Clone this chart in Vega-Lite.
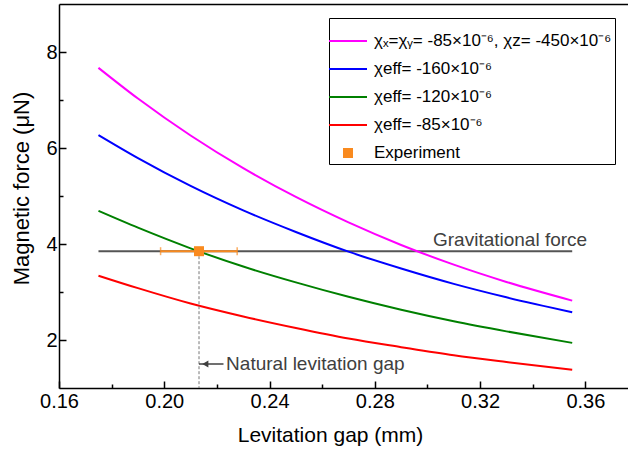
{
  "$schema": "https://vega.github.io/schema/vega-lite/v6.json",
  "width": 569,
  "height": 384,
  "autosize": {"type": "none"},
  "padding": {"left": 59, "top": 4, "right": 0, "bottom": 65},
  "config": {
    "view": {"stroke": null},
    "font": "Liberation Sans",
    "axis": {"grid": false, "domainColor": "black", "domainWidth": 1.5, "tickColor": "black", "tickWidth": 1.5, "labelColor": "black", "titleColor": "black", "titleFontWeight": "normal"}
  },
  "datasets": {
    "curves": [
      {"series": "χₓ=χᵧ= -85×10⁻⁶, χz= -450×10⁻⁶", "gap": 0.175, "force": 7.67},
      {"series": "χₓ=χᵧ= -85×10⁻⁶, χz= -450×10⁻⁶", "gap": 0.19, "force": 7.03},
      {"series": "χₓ=χᵧ= -85×10⁻⁶, χz= -450×10⁻⁶", "gap": 0.21, "force": 6.26},
      {"series": "χₓ=χᵧ= -85×10⁻⁶, χz= -450×10⁻⁶", "gap": 0.23, "force": 5.58},
      {"series": "χₓ=χᵧ= -85×10⁻⁶, χz= -450×10⁻⁶", "gap": 0.25, "force": 4.98},
      {"series": "χₓ=χᵧ= -85×10⁻⁶, χz= -450×10⁻⁶", "gap": 0.27, "force": 4.45},
      {"series": "χₓ=χᵧ= -85×10⁻⁶, χz= -450×10⁻⁶", "gap": 0.29, "force": 3.98},
      {"series": "χₓ=χᵧ= -85×10⁻⁶, χz= -450×10⁻⁶", "gap": 0.31, "force": 3.57},
      {"series": "χₓ=χᵧ= -85×10⁻⁶, χz= -450×10⁻⁶", "gap": 0.33, "force": 3.21},
      {"series": "χₓ=χᵧ= -85×10⁻⁶, χz= -450×10⁻⁶", "gap": 0.355, "force": 2.82},
      {"series": "χeff= -160×10⁻⁶", "gap": 0.175, "force": 6.27},
      {"series": "χeff= -160×10⁻⁶", "gap": 0.19, "force": 5.79},
      {"series": "χeff= -160×10⁻⁶", "gap": 0.21, "force": 5.21},
      {"series": "χeff= -160×10⁻⁶", "gap": 0.23, "force": 4.70},
      {"series": "χeff= -160×10⁻⁶", "gap": 0.25, "force": 4.25},
      {"series": "χeff= -160×10⁻⁶", "gap": 0.27, "force": 3.84},
      {"series": "χeff= -160×10⁻⁶", "gap": 0.29, "force": 3.49},
      {"series": "χeff= -160×10⁻⁶", "gap": 0.31, "force": 3.17},
      {"series": "χeff= -160×10⁻⁶", "gap": 0.33, "force": 2.89},
      {"series": "χeff= -160×10⁻⁶", "gap": 0.355, "force": 2.58},
      {"series": "χeff= -120×10⁻⁶", "gap": 0.175, "force": 4.69},
      {"series": "χeff= -120×10⁻⁶", "gap": 0.19, "force": 4.34},
      {"series": "χeff= -120×10⁻⁶", "gap": 0.21, "force": 3.91},
      {"series": "χeff= -120×10⁻⁶", "gap": 0.23, "force": 3.53},
      {"series": "χeff= -120×10⁻⁶", "gap": 0.25, "force": 3.20},
      {"series": "χeff= -120×10⁻⁶", "gap": 0.27, "force": 2.90},
      {"series": "χeff= -120×10⁻⁶", "gap": 0.29, "force": 2.63},
      {"series": "χeff= -120×10⁻⁶", "gap": 0.31, "force": 2.39},
      {"series": "χeff= -120×10⁻⁶", "gap": 0.33, "force": 2.18},
      {"series": "χeff= -120×10⁻⁶", "gap": 0.355, "force": 1.94},
      {"series": "χeff= -85×10⁻⁶", "gap": 0.175, "force": 3.34},
      {"series": "χeff= -85×10⁻⁶", "gap": 0.19, "force": 3.08},
      {"series": "χeff= -85×10⁻⁶", "gap": 0.21, "force": 2.76},
      {"series": "χeff= -85×10⁻⁶", "gap": 0.23, "force": 2.49},
      {"series": "χeff= -85×10⁻⁶", "gap": 0.25, "force": 2.25},
      {"series": "χeff= -85×10⁻⁶", "gap": 0.27, "force": 2.03},
      {"series": "χeff= -85×10⁻⁶", "gap": 0.29, "force": 1.85},
      {"series": "χeff= -85×10⁻⁶", "gap": 0.31, "force": 1.68},
      {"series": "χeff= -85×10⁻⁶", "gap": 0.33, "force": 1.54},
      {"series": "χeff= -85×10⁻⁶", "gap": 0.355, "force": 1.38}
    ],
    "gravity": [
      {"gap": 0.175, "force": 3.85},
      {"gap": 0.355, "force": 3.85}
    ],
    "gravityLabel": [
      {"text": "Gravitational force", "gap": 0.3314, "force": 3.85}
    ],
    "experiment": [
      {"series": "Experiment", "gap": 0.2132, "force": 3.85, "lo": 0.1986, "hi": 0.2277, "floor": 1}
    ],
    "naturalGap": [
      {"text": "Natural levitation gap", "from": 0.2132, "to": 0.2225, "head": 0.2156, "textAt": 0.2235, "force": 1.5}
    ]
  },
  "resolve": {"axis": {"x": "independent"}},
  "layer": [
    {
      "data": {"name": "gravity"},
      "mark": {"type": "line", "color": "#555555", "strokeWidth": 2},
      "encoding": {
        "x": {
          "field": "gap", "type": "quantitative",
          "scale": {"domain": [0.16, 0.3762], "nice": false, "zero": false},
          "axis": {"orient": "top", "labels": false, "ticks": false, "title": null}
        },
        "y": {
          "field": "force", "type": "quantitative",
          "scale": {"domain": [1, 9], "nice": false, "zero": false},
          "axis": {
            "values": [2, 3, 4, 5, 6, 7, 8],
            "labelExpr": "datum.value % 2 == 0 ? datum.label : ''",
            "tickSize": {"condition": {"test": "datum.value % 2 == 0", "value": -7}, "value": -4},
            "labelFontSize": 20,
            "labelPadding": 9,
            "title": "Magnetic force (μN)",
            "titleFontSize": 22,
            "titleBaseline": "alphabetic",
            "titleX": -31,
            "titleY": 184
          }
        }
      }
    },
    {
      "layer": [
        {
          "data": {"name": "curves"},
          "mark": {"type": "line", "strokeWidth": 2, "interpolate": "monotone"},
          "encoding": {
            "x": {
              "field": "gap", "type": "quantitative",
              "axis": {
                "orient": "bottom",
                "values": [0.16, 0.18, 0.2, 0.22, 0.24, 0.26, 0.28, 0.3, 0.32, 0.34, 0.36],
                "labelExpr": "round(datum.value * 100) % 4 == 0 ? format(datum.value, '.2f') : ''",
                "tickSize": {"condition": {"test": "round(datum.value * 100) % 4 == 0", "value": -7}, "value": -4},
                "labelFontSize": 20,
                "labelPadding": 10,
                "labelFlush": false,
                "title": "Levitation gap (mm)",
                "titleFontSize": 21,
                "titleX": 271,
                "titleY": 36
              }
            },
            "y": {"field": "force", "type": "quantitative"},
            "color": {
              "field": "series", "type": "nominal",
              "scale": {
                "domain": ["χₓ=χᵧ= -85×10⁻⁶, χz= -450×10⁻⁶", "χeff= -160×10⁻⁶", "χeff= -120×10⁻⁶", "χeff= -85×10⁻⁶", "Experiment"],
                "range": ["#FF00FF", "#0000FF", "#008000", "#FF0000", "#F98A1F"]
              },
              "legend": {
                "orient": "none",
                "legendX": 270,
                "legendY": 14,
                "title": null,
                "symbolType": "stroke",
                "symbolSize": 400,
                "symbolStrokeWidth": 2,
                "labelFontSize": 17,
                "labelColor": "black",
                "labelOffset": 2,
                "labelLimit": 400,
                "padding": 3,
                "rowPadding": -1.5,
                "strokeColor": "black",
                "fillColor": "white",
                "encode": {
                  "symbols": {
                    "update": {
                      "x": {"value": 16},
                      "shape": {"signal": "datum.value === 'Experiment' ? 'square' : 'stroke'"},
                      "size": {"signal": "datum.value === 'Experiment' ? 64 : 1444"},
                      "fill": {"signal": "datum.value === 'Experiment' ? scale('color', datum.value) : 'transparent'"},
                      "stroke": {"signal": "datum.value === 'Experiment' ? 'transparent' : scale('color', datum.value)"},
                      "strokeWidth": {"value": 2},
                      "opacity": {"value": 1}
                    }
                  }
                }
              }
            }
          }
        },
        {
          "data": {"name": "experiment"},
          "mark": {"type": "rule", "color": "#777777", "strokeWidth": 1, "strokeDash": [3, 2]},
          "encoding": {
            "x": {"field": "gap", "type": "quantitative"},
            "y": {"field": "force", "type": "quantitative"},
            "y2": {"field": "floor"}
          }
        },
        {
          "data": {"name": "experiment"},
          "mark": {"type": "rule", "color": "#F98A1F", "strokeWidth": 2},
          "encoding": {
            "x": {"field": "lo", "type": "quantitative"},
            "x2": {"field": "hi"},
            "y": {"field": "force", "type": "quantitative"}
          }
        },
        {
          "data": {"name": "experiment"},
          "mark": {"type": "tick", "orient": "vertical", "color": "#F98A1F", "size": 8, "thickness": 1.5},
          "encoding": {
            "x": {"field": "lo", "type": "quantitative"},
            "y": {"field": "force", "type": "quantitative"}
          }
        },
        {
          "data": {"name": "experiment"},
          "mark": {"type": "tick", "orient": "vertical", "color": "#F98A1F", "size": 8, "thickness": 1.5},
          "encoding": {
            "x": {"field": "hi", "type": "quantitative"},
            "y": {"field": "force", "type": "quantitative"}
          }
        },
        {
          "data": {"name": "experiment"},
          "mark": {"type": "point", "shape": "square", "filled": true, "size": 100, "opacity": 1},
          "encoding": {
            "x": {"field": "gap", "type": "quantitative"},
            "y": {"field": "force", "type": "quantitative"},
            "color": {"field": "series", "type": "nominal"}
          }
        },
        {
          "data": {"name": "gravityLabel"},
          "mark": {"type": "text", "font": "Liberation Sans", "fontSize": 19, "color": "#404040", "align": "center", "baseline": "alphabetic", "dy": -5},
          "encoding": {
            "x": {"field": "gap", "type": "quantitative"},
            "y": {"field": "force", "type": "quantitative"},
            "text": {"field": "text"}
          }
        },
        {
          "data": {"name": "naturalGap"},
          "mark": {"type": "rule", "color": "#404040", "strokeWidth": 1.5},
          "encoding": {
            "x": {"field": "from", "type": "quantitative"},
            "x2": {"field": "to"},
            "y": {"field": "force", "type": "quantitative"}
          }
        },
        {
          "data": {"name": "naturalGap"},
          "mark": {"type": "point", "shape": "triangle-left", "filled": true, "size": 50, "color": "#404040", "opacity": 1},
          "encoding": {
            "x": {"field": "head", "type": "quantitative"},
            "y": {"field": "force", "type": "quantitative"}
          }
        },
        {
          "data": {"name": "naturalGap"},
          "mark": {"type": "text", "font": "Liberation Sans", "fontSize": 19, "color": "#404040", "align": "left", "baseline": "middle"},
          "encoding": {
            "x": {"field": "textAt", "type": "quantitative"},
            "y": {"field": "force", "type": "quantitative"},
            "text": {"field": "text"}
          }
        }
      ]
    }
  ]
}
